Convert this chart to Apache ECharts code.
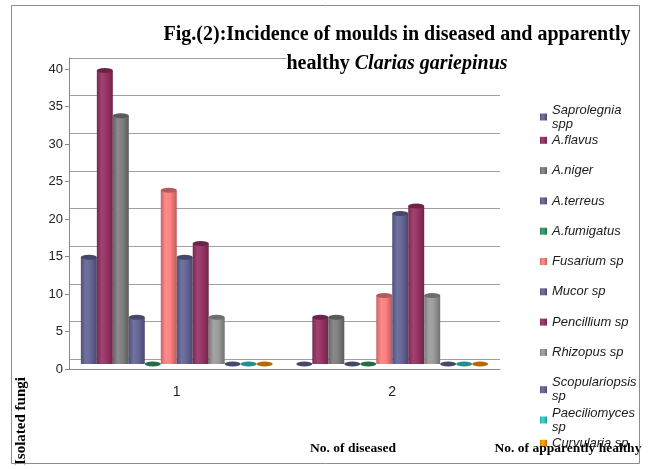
<!DOCTYPE html>
<html>
<head>
<meta charset="utf-8">
<script src="https://cdn.jsdelivr.net/npm/echarts@6/dist/echarts.min.js"></script>
<style>
  html, body { margin: 0; padding: 0; background: #fff; }
  #chart { width: 649px; height: 469px; }
</style>
</head>
<body>
<div id="chart"></div>
<script>
// Categories on the x axis (1 = diseased fish, 2 = apparently healthy fish)
const categories = ['1', '2'];

// Mould species, in legend order
const fungi = [
  'Saprolegnia\nspp', 'A.flavus', 'A.niger', 'A.terreus', 'A.fumigatus',
  'Fusarium sp', 'Mucor sp', 'Pencillium sp', 'Rhizopus sp',
  'Scopulariopsis\nsp', 'Paeciliomyces\nsp', 'Curvularia sp'
];

// Isolated fungi per species
const diseased = [14.2, 39, 33, 6.2, 0, 23.1, 14.2, 16, 6.2, 0, 0, 0];
const healthy  = [0, 6.2, 6.2, 0, 0, 9.1, 20, 21, 9.1, 0, 0, 0];

// Y axis scale
const yTicks = [0, 5, 10, 15, 20, 25, 30, 35, 40];

const palette = [
  '#666699', '#993366', '#808080', '#666699', '#339966', '#ff8080',
  '#666699', '#993366', '#9c9c9c', '#666699', '#33cccc', '#ff9900'
];

function shade(hex, f) {
  const n = parseInt(hex.slice(1), 16);
  let c = [(n >> 16) & 255, (n >> 8) & 255, n & 255];
  c = c.map(v => f <= 1 ? Math.round(v * f) : Math.round(v + (255 - v) * (f - 1)));
  return '#' + c.map(v => Math.max(0, Math.min(255, v)).toString(16).padStart(2, '0')).join('');
}

// Horizontal shading that gives each bar a rounded, cylindrical look
function cylinder(hex) {
  return {
    type: 'linear', x: 0, y: 0, x2: 1, y2: 0,
    colorStops: [
      { offset: 0, color: shade(hex, 0.78) },
      { offset: 0.3, color: shade(hex, 1.08) },
      { offset: 0.6, color: hex },
      { offset: 1, color: shade(hex, 0.72) }
    ]
  };
}

const L = 69, R = 149;
const series = [];
fungi.forEach((name, i) => {
  const data = [diseased[i], healthy[i]];
  series.push({
    type: 'bar', name, xAxisIndex: 2, yAxisIndex: 2, data,
    barGap: '0%', barCategoryGap: '11%', z: 3,
    itemStyle: { color: cylinder(palette[i]) },
    emphasis: { disabled: true }
  });
  // elliptical cap on top of each cylinder
  series.push({
    type: 'pictorialBar', name: name + ' top', xAxisIndex: 2, yAxisIndex: 2, data,
    barGap: '0%', barCategoryGap: '11%', z: 4,
    symbol: 'circle', symbolSize: ['100%', 5], symbolPosition: 'end', symbolOffset: [0, '-50%'],
    itemStyle: { color: shade(palette[i], 0.7) },
    emphasis: { disabled: true }
  });
});

// one legend entry per row, on a fixed row pitch
const legendTop = 103, legendPitch = 30.3;
const legends = fungi.map((name, i) => ({
  data: [name], orient: 'vertical', left: 540, top: legendTop + i * legendPitch,
  padding: 0, icon: 'rect', itemWidth: 7, itemHeight: 7, selectedMode: false,
  textStyle: { fontFamily: 'Liberation Sans', fontStyle: 'italic', fontSize: 13, color: '#1a1a1a', lineHeight: 14 }
}));

const chart = echarts.init(document.getElementById('chart'), null, { renderer: 'canvas' });
chart.setOption({
  animation: false,
  backgroundColor: '#fff',
  color: palette,
  title: {
    left: 397, top: 20, textAlign: 'center', padding: 0,
    text: '{b|Fig.(2):Incidence of moulds in diseased and apparently}\n{h|healthy }{i|Clarias gariepinus}',
    textStyle: {
      rich: {
        b: { fontFamily: 'Liberation Serif', fontWeight: 'bold', fontSize: 20, lineHeight: 29, color: '#000' },
        h: { fontFamily: 'Liberation Serif', fontWeight: 'bold', fontSize: 20, lineHeight: 29, color: '#000', backgroundColor: '#fff' },
        i: { fontFamily: 'Liberation Serif', fontStyle: 'italic', fontSize: 20, lineHeight: 29, color: '#000', backgroundColor: '#fff' }
      }
    }
  },
  legend: legends,
  grid: [
    { left: L, right: R, top: 58, bottom: 110 },
    { left: L, right: R, top: 69, bottom: 100 },
    { left: L, right: R, top: 63, bottom: 105 }
  ],
  xAxis: [
    { type: 'category', gridIndex: 0, data: categories, show: false },
    {
      type: 'category', gridIndex: 1, data: categories,
      axisLine: { lineStyle: { color: '#8a8a8a' } },
      axisTick: { length: 4, lineStyle: { color: '#8a8a8a' } },
      axisLabel: { fontFamily: 'Liberation Sans', fontSize: 14, color: '#222', margin: 16 }
    },
    { type: 'category', gridIndex: 2, data: categories, show: false }
  ],
  yAxis: [
    {
      type: 'value', gridIndex: 0, min: 0, max: 40, interval: 5,
      axisLine: { show: true, lineStyle: { color: '#8a8a8a' } },
      axisTick: { show: false }, axisLabel: { show: false },
      splitLine: { lineStyle: { color: '#a0a0a0', width: 1 } }
    },
    {
      type: 'value', gridIndex: 1, min: yTicks[0], max: yTicks[yTicks.length - 1], interval: 5,
      axisLine: { show: true, lineStyle: { color: '#8a8a8a' } },
      axisTick: { show: true, length: 4, lineStyle: { color: '#8a8a8a' } },
      axisLabel: { fontFamily: 'Liberation Sans', fontSize: 13, color: '#222', margin: 6 },
      splitLine: { show: false }
    },
    { type: 'value', gridIndex: 2, min: 0, max: 40, show: false, splitLine: { show: false } }
  ],
  graphic: [
    { type: 'rect', shape: { x: 11.5, y: 5.5, width: 628, height: 458 }, style: { fill: 'none', stroke: '#8c8c8c', lineWidth: 1 }, z: 100 },
    { type: 'text', x: 21, y: 421, rotation: Math.PI / 2, style: { text: 'Isolated fungi', font: 'bold 15px "Liberation Serif"', fill: '#000', textAlign: 'center', textVerticalAlign: 'middle' } },
    { type: 'text', x: 353, y: 449, style: { text: 'No. of diseased', font: 'bold 13.5px "Liberation Serif"', fill: '#000', textAlign: 'center', textVerticalAlign: 'middle' } },
    { type: 'text', x: 568, y: 449, style: { text: 'No. of apparently healthy', font: 'bold 13.5px "Liberation Serif"', fill: '#000', textAlign: 'center', textVerticalAlign: 'middle' }, z: 50 }
  ],
  series
});
</script>
</body>
</html>
